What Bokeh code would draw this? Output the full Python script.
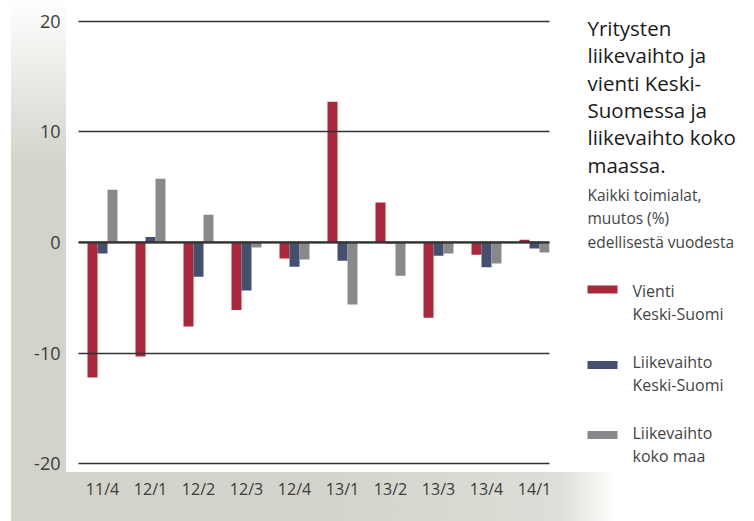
from bokeh.plotting import figure
from bokeh.layouts import row
from bokeh.models import Span, FixedTicker, Range1d
from bokeh.core.properties import value
from bokeh.embed import file_html
from bokeh.resources import INLINE

# ---- data ----
periods = ["11/4", "12/1", "12/2", "12/3", "12/4", "13/1", "13/2", "13/3", "13/4", "14/1"]
vienti_ks = [-12.2, -10.3, -7.6, -6.1, -1.45, 12.7, 3.6, -6.8, -1.1, 0.25]
liikevaihto_ks = [-1.0, 0.5, -3.1, -4.35, -2.2, -1.65, -0.1, -1.2, -2.25, -0.55]
liikevaihto_maa = [4.75, 5.75, 2.5, -0.45, -1.55, -5.6, -3.0, -1.0, -1.9, -0.9]
y_ticks = [-20, -10, 0, 10, 20]
y_tick_labels = ["-20", "-10", "0", "10", "20"]

series_names = ["Vienti\nKeski-Suomi", "Liikevaihto\nKeski-Suomi", "Liikevaihto\nkoko maa"]
colors = ["#A8293A", "#454F6E", "#88898D"]

title_lines = ["Yritysten", "liikevaihto ja", "vienti Keski-", "Suomessa ja",
               "liikevaihto koko", "maassa."]
subtitle_lines = ["Kaikki toimialat,", "muutos (%)", "edellisestä vuodesta"]

# ---- layout constants (canvas px) ----
H = 521
W1, W2 = 568, 186
FL, FR, FT, FB = 78, 549, 18, 470   # frame edges
PX_PER_X = 48.0
x_start = -0.5
x_end = x_start + (FR - FL) / PX_PER_X

p = figure(width=W1, height=H, output_backend="svg", toolbar_location=None,
           x_range=Range1d(x_start, x_end), y_range=Range1d(-20.6, 20.23),
           min_border_left=FL, min_border_right=W1 - FR,
           min_border_top=FT, min_border_bottom=H - FB)
p.outline_line_color = None
p.background_fill_color = "white"
p.border_fill_color = None

# ---- bars ----
bw = 10 / PX_PER_X
xs = list(range(len(periods)))
for j, (vals, col) in enumerate(zip([vienti_ks, liikevaihto_ks, liikevaihto_maa], colors)):
    off = (j - 1) * bw
    p.vbar(x=[x + off for x in xs], top=vals, bottom=0, width=bw,
           fill_color=col, line_color=None)

# ---- grid ----
p.xgrid.grid_line_color = None
p.ygrid.ticker = FixedTicker(ticks=y_ticks)
p.ygrid.grid_line_color = "#333333"
p.ygrid.grid_line_width = 1.3
p.ygrid.level = "overlay"
p.add_layout(Span(location=0, dimension="width", line_color="#333333", line_width=2.2))

# ---- axes ----
p.yaxis.ticker = FixedTicker(ticks=y_ticks)
p.yaxis.major_label_overrides = dict(zip(y_ticks, y_tick_labels))
p.yaxis.axis_line_color = None
p.yaxis.major_tick_line_color = None
p.yaxis.minor_tick_line_color = None
p.yaxis.major_label_standoff = 12
p.yaxis.major_label_text_font = "Open Sans"
p.yaxis.major_label_text_font_size = "18px"
p.yaxis.major_label_text_color = "#3c3c3c"

p.xaxis.ticker = FixedTicker(ticks=xs)
p.xaxis.major_label_overrides = {i: s for i, s in enumerate(periods)}
p.xaxis.axis_line_color = None
p.xaxis.major_tick_line_color = None
p.xaxis.minor_tick_line_color = None
p.xaxis.major_label_standoff = 1
p.xaxis.major_label_text_font = "Open Sans"
p.xaxis.major_label_text_font_size = "16px"
p.xaxis.major_label_text_color = "#3c3c3c"

# ---- side panel: title and legend (y in canvas px, frame aligned with main plot) ----
q = figure(width=W2, height=H, output_backend="svg", toolbar_location=None,
           x_range=Range1d(0, W2), y_range=Range1d(FB, FT),
           x_axis_location=None, y_axis_location=None,
           min_border_left=0, min_border_right=0,
           min_border_top=FT, min_border_bottom=H - FB)
q.outline_line_color = None
q.background_fill_color = None
q.border_fill_color = None
q.xgrid.visible = False
q.ygrid.visible = False

TX = 19
q.text(x=[TX] * len(title_lines), y=[27.5 + i * 27.3 for i in range(len(title_lines))],
       text=title_lines, text_font=value("Open Sans"), text_font_size=value("20.5px"),
       text_color="#1a1a1a", text_baseline="middle", text_align="left")
q.text(x=[TX] * len(subtitle_lines), y=[194 + i * 23.6 for i in range(len(subtitle_lines))],
       text=subtitle_lines, text_font=value("Open Sans"), text_font_size=value("15.5px"),
       text_color="#444444", text_baseline="middle", text_align="left")

swatch_y = [289, 364.5, 434.5]
text_y = [290, 361, 432]
q.quad(left=[TX] * 3, right=[TX + 30] * 3, top=[y - 4 for y in swatch_y],
       bottom=[y + 4 for y in swatch_y], fill_color=colors, line_color=None)
lines_x, lines_y, lines_t = [], [], []
for name, yy in zip(series_names, text_y):
    l1, l2 = name.split("\n")
    lines_x += [64, 64]
    lines_y += [yy, yy + 23]
    lines_t += [l1, l2]
q.text(x=lines_x, y=lines_y, text=lines_t, text_font=value("Open Sans"),
       text_font_size=value("16px"), text_color="#444444",
       text_baseline="middle", text_align="left")

layout = row(p, q)
layout.styles = {
    "background-color": "#ffffff",
    "background-image": ("linear-gradient(to bottom, rgb(255,255,255) 0px, rgb(211,211,203) 165px), "
                         "linear-gradient(to right, rgb(211,211,203) 0px, rgb(211,211,203) 289px, "
                         "rgb(222,222,216) 549px, rgb(255,255,255) 605px)"),
    "background-position": "11px 0px, 11px 472px",
    "background-size": "55px 521px, 605px 49px",
    "background-repeat": "no-repeat",
}

open("out.html", "w").write(file_html(layout, INLINE))
